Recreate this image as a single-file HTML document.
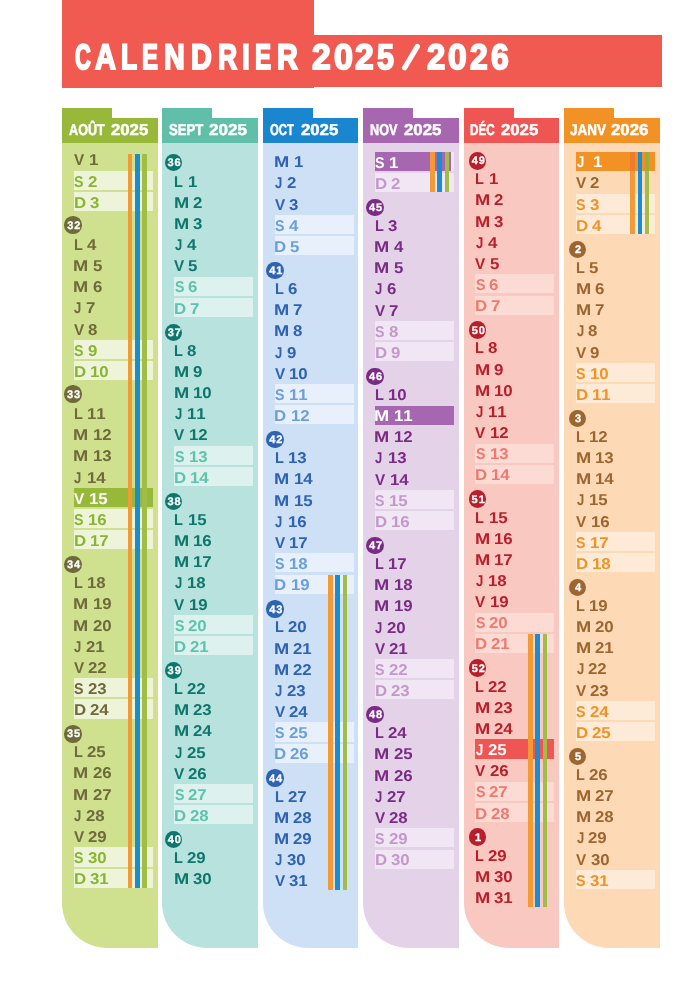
<!DOCTYPE html><html><head><meta charset="utf-8"><title>Calendrier 2025/2026</title><style>
html,body{margin:0;padding:0;background:#fff;}
body{width:700px;height:993px;position:relative;overflow:hidden;font-family:"Liberation Sans", sans-serif;font-weight:bold;font-kerning:none;text-rendering:geometricPrecision;}
div{position:absolute;box-sizing:border-box;}
.t{white-space:nowrap;line-height:1;transform-origin:0 0;}
.h{-webkit-text-stroke:0.5px #fff;}
.n{-webkit-text-stroke:0.3px #fff;}
.c{border-radius:50%;}
#w{position:absolute;left:0;top:0;width:700px;height:993px;will-change:transform;}
</style></head><body><div id="w">
<div style="left:62px;top:0;width:252px;height:88px;background:#f05a51"></div>
<div style="left:62px;top:35px;width:600px;height:52.4px;background:#f05a51"></div>
<div class="t" style="left:75.20px;top:40.00px;font-size:35.50px;color:#fff;transform:scaleX(0.6161);-webkit-text-stroke:2px #fff;">C</div>
<div class="t" style="left:95.18px;top:40.00px;font-size:35.50px;color:#fff;transform:scaleX(0.8145);-webkit-text-stroke:2px #fff;">A</div>
<div class="t" style="left:120.64px;top:40.00px;font-size:35.50px;color:#fff;transform:scaleX(0.7410);-webkit-text-stroke:2px #fff;">L</div>
<div class="t" style="left:142.30px;top:40.00px;font-size:35.50px;color:#fff;transform:scaleX(0.6728);-webkit-text-stroke:2px #fff;">E</div>
<div class="t" style="left:164.18px;top:40.00px;font-size:35.50px;color:#fff;transform:scaleX(0.8098);-webkit-text-stroke:2px #fff;">N</div>
<div class="t" style="left:191.07px;top:40.00px;font-size:35.50px;color:#fff;transform:scaleX(0.8130);-webkit-text-stroke:2px #fff;">D</div>
<div class="t" style="left:217.83px;top:40.00px;font-size:35.50px;color:#fff;transform:scaleX(0.7455);-webkit-text-stroke:2px #fff;">R</div>
<div class="t" style="left:241.74px;top:40.00px;font-size:35.50px;color:#fff;transform:scaleX(0.7822);-webkit-text-stroke:2px #fff;">I</div>
<div class="t" style="left:254.79px;top:40.00px;font-size:35.50px;color:#fff;transform:scaleX(0.6778);-webkit-text-stroke:2px #fff;">E</div>
<div class="t" style="left:276.77px;top:40.00px;font-size:35.50px;color:#fff;transform:scaleX(0.8121);-webkit-text-stroke:2px #fff;">R</div>
<div class="t" style="left:312.43px;top:40.00px;font-size:35.50px;color:#fff;transform:scaleX(0.9479);-webkit-text-stroke:1.8px #fff;">2</div>
<div class="t" style="left:333.65px;top:40.00px;font-size:35.50px;color:#fff;transform:scaleX(0.9595);-webkit-text-stroke:1.8px #fff;">0</div>
<div class="t" style="left:355.33px;top:40.00px;font-size:35.50px;color:#fff;transform:scaleX(0.9479);-webkit-text-stroke:1.8px #fff;">2</div>
<div class="t" style="left:376.96px;top:40.00px;font-size:35.50px;color:#fff;transform:scaleX(0.8605);-webkit-text-stroke:1.8px #fff;">5</div>
<div class="t" style="left:427.16px;top:40.00px;font-size:35.50px;color:#fff;transform:scaleX(0.9244);-webkit-text-stroke:1.8px #fff;">2</div>
<div class="t" style="left:448.17px;top:40.00px;font-size:35.50px;color:#fff;transform:scaleX(0.9477);-webkit-text-stroke:1.8px #fff;">0</div>
<div class="t" style="left:470.10px;top:40.00px;font-size:35.50px;color:#fff;transform:scaleX(0.8952);-webkit-text-stroke:1.8px #fff;">2</div>
<div class="t" style="left:491.13px;top:40.00px;font-size:35.50px;color:#fff;transform:scaleX(0.8974);-webkit-text-stroke:1.8px #fff;">6</div>
<svg style="position:absolute;left:0;top:0" width="700" height="100"><line x1="404.6" y1="67.8" x2="417.4" y2="46.4" stroke="#fff" stroke-width="5.2" stroke-linecap="round"/></svg>
<div style="left:62.00px;top:108.30px;width:50px;height:10.60px;background:#98b83a"></div>
<div style="left:62.00px;top:117.90px;width:95.60px;height:24.90px;background:#98b83a"></div>
<div style="left:62.00px;top:142.80px;width:95.60px;height:805.00px;background:#cfe18f;border-bottom-left-radius:45px"></div>
<div class="t h" style="left:69.03px;top:123.00px;font-size:15.80px;color:#fff;transform:scaleX(0.8009);">AOÛT</div>
<div class="t h" style="left:111.17px;top:123.00px;font-size:15.80px;color:#fff;transform:scaleX(1.0597);">2025</div>
<div style="left:73.90px;top:170.94px;width:79.00px;height:19.10px;background:#eef4da"></div>
<div style="left:73.90px;top:192.08px;width:79.00px;height:19.10px;background:#eef4da"></div>
<div style="left:73.90px;top:340.06px;width:79.00px;height:19.10px;background:#eef4da"></div>
<div style="left:73.90px;top:361.20px;width:79.00px;height:19.10px;background:#eef4da"></div>
<div style="left:73.90px;top:509.18px;width:79.00px;height:19.10px;background:#eef4da"></div>
<div style="left:73.90px;top:530.32px;width:79.00px;height:19.10px;background:#eef4da"></div>
<div style="left:73.90px;top:678.30px;width:79.00px;height:19.10px;background:#eef4da"></div>
<div style="left:73.90px;top:699.44px;width:79.00px;height:19.10px;background:#eef4da"></div>
<div style="left:73.90px;top:847.42px;width:79.00px;height:19.10px;background:#eef4da"></div>
<div style="left:73.90px;top:868.56px;width:79.00px;height:19.10px;background:#eef4da"></div>
<div style="left:73.90px;top:488.04px;width:79.00px;height:19.10px;background:#98b83a"></div>
<div style="left:127.70px;top:154.00px;width:4.6px;height:733.66px;background:#f39a36"></div>
<div style="left:134.95px;top:154.00px;width:4.6px;height:733.66px;background:#1a8dd0"></div>
<div style="left:142.20px;top:154.00px;width:4.6px;height:733.66px;background:#a0bd48"></div>
<div class="t" style="left:73.90px;top:153.00px;font-size:15.60px;color:#6f6a3a;transform:scaleX(0.9800);">V</div>
<div class="t" style="left:88.64px;top:153.00px;font-size:15.60px;color:#6f6a3a;transform:scaleX(1.0800);">1</div>
<div class="t" style="left:74.39px;top:175.00px;font-size:15.60px;color:#8ab52f;transform:scaleX(0.9100);">S</div>
<div class="t" style="left:87.92px;top:175.00px;font-size:15.60px;color:#8ab52f;transform:scaleX(1.0800);">2</div>
<div class="t" style="left:73.67px;top:196.00px;font-size:15.60px;color:#8ab52f;transform:scaleX(1.0800);">D</div>
<div class="t" style="left:89.81px;top:196.00px;font-size:15.60px;color:#8ab52f;transform:scaleX(1.0800);">3</div>
<div class="c" style="left:64.35px;top:216.12px;width:17.5px;height:17.5px;background:#6f6a3a"></div>
<div class="t n" style="left:67.13px;top:221.00px;font-size:11.00px;color:#fff;letter-spacing:0.9px;">32</div>
<div class="t" style="left:73.83px;top:238.00px;font-size:15.60px;color:#6f6a3a;transform:scaleX(0.9300);">L</div>
<div class="t" style="left:87.24px;top:238.00px;font-size:15.60px;color:#6f6a3a;transform:scaleX(1.0800);">4</div>
<div class="t" style="left:73.48px;top:259.00px;font-size:15.60px;color:#6f6a3a;transform:scaleX(1.1700);">M</div>
<div class="t" style="left:92.68px;top:259.00px;font-size:15.60px;color:#6f6a3a;transform:scaleX(1.0800);">5</div>
<div class="t" style="left:73.48px;top:280.00px;font-size:15.60px;color:#6f6a3a;transform:scaleX(1.1700);">M</div>
<div class="t" style="left:92.58px;top:280.00px;font-size:15.60px;color:#6f6a3a;transform:scaleX(1.0800);">6</div>
<div class="t" style="left:74.40px;top:301.00px;font-size:15.60px;color:#6f6a3a;transform:scaleX(0.8400);">J</div>
<div class="t" style="left:86.18px;top:301.00px;font-size:15.60px;color:#6f6a3a;transform:scaleX(1.0800);">7</div>
<div class="t" style="left:73.90px;top:323.00px;font-size:15.60px;color:#6f6a3a;transform:scaleX(0.9800);">V</div>
<div class="t" style="left:88.27px;top:323.00px;font-size:15.60px;color:#6f6a3a;transform:scaleX(1.0800);">8</div>
<div class="t" style="left:74.39px;top:344.00px;font-size:15.60px;color:#8ab52f;transform:scaleX(0.9100);">S</div>
<div class="t" style="left:87.92px;top:344.00px;font-size:15.60px;color:#8ab52f;transform:scaleX(1.0800);">9</div>
<div class="t" style="left:73.67px;top:365.00px;font-size:15.60px;color:#8ab52f;transform:scaleX(1.0800);">D</div>
<div class="t" style="left:90.04px;top:365.00px;font-size:15.60px;color:#8ab52f;transform:scaleX(1.0800);">10</div>
<div class="c" style="left:64.35px;top:385.29px;width:17.5px;height:17.5px;background:#6f6a3a"></div>
<div class="t n" style="left:67.10px;top:390.00px;font-size:11.00px;color:#fff;letter-spacing:0.9px;">33</div>
<div class="t" style="left:73.83px;top:407.00px;font-size:15.60px;color:#6f6a3a;transform:scaleX(0.9300);">L</div>
<div class="t" style="left:87.34px;top:407.00px;font-size:15.60px;color:#6f6a3a;transform:scaleX(1.0800);">11</div>
<div class="t" style="left:73.48px;top:428.00px;font-size:15.60px;color:#6f6a3a;transform:scaleX(1.1700);">M</div>
<div class="t" style="left:93.04px;top:428.00px;font-size:15.60px;color:#6f6a3a;transform:scaleX(1.0800);">12</div>
<div class="t" style="left:73.48px;top:449.00px;font-size:15.60px;color:#6f6a3a;transform:scaleX(1.1700);">M</div>
<div class="t" style="left:93.04px;top:449.00px;font-size:15.60px;color:#6f6a3a;transform:scaleX(1.0800);">13</div>
<div class="t" style="left:74.40px;top:471.00px;font-size:15.60px;color:#6f6a3a;transform:scaleX(0.8400);">J</div>
<div class="t" style="left:86.74px;top:471.00px;font-size:15.60px;color:#6f6a3a;transform:scaleX(1.0800);">14</div>
<div class="t" style="left:73.90px;top:492.00px;font-size:15.60px;color:#fff;transform:scaleX(0.9800);">V</div>
<div class="t" style="left:88.64px;top:492.00px;font-size:15.60px;color:#fff;transform:scaleX(1.0800);">15</div>
<div class="t" style="left:74.39px;top:513.00px;font-size:15.60px;color:#8ab52f;transform:scaleX(0.9100);">S</div>
<div class="t" style="left:88.34px;top:513.00px;font-size:15.60px;color:#8ab52f;transform:scaleX(1.0800);">16</div>
<div class="t" style="left:73.67px;top:534.00px;font-size:15.60px;color:#8ab52f;transform:scaleX(1.0800);">D</div>
<div class="t" style="left:90.04px;top:534.00px;font-size:15.60px;color:#8ab52f;transform:scaleX(1.0800);">17</div>
<div class="c" style="left:64.35px;top:555.91px;width:17.5px;height:17.5px;background:#6f6a3a"></div>
<div class="t n" style="left:66.94px;top:560.00px;font-size:11.00px;color:#fff;letter-spacing:0.9px;">34</div>
<div class="t" style="left:73.83px;top:576.00px;font-size:15.60px;color:#6f6a3a;transform:scaleX(0.9300);">L</div>
<div class="t" style="left:87.34px;top:576.00px;font-size:15.60px;color:#6f6a3a;transform:scaleX(1.0800);">18</div>
<div class="t" style="left:73.48px;top:597.00px;font-size:15.60px;color:#6f6a3a;transform:scaleX(1.1700);">M</div>
<div class="t" style="left:93.04px;top:597.00px;font-size:15.60px;color:#6f6a3a;transform:scaleX(1.0800);">19</div>
<div class="t" style="left:73.48px;top:619.00px;font-size:15.60px;color:#6f6a3a;transform:scaleX(1.1700);">M</div>
<div class="t" style="left:92.62px;top:619.00px;font-size:15.60px;color:#6f6a3a;transform:scaleX(1.0800);">20</div>
<div class="t" style="left:74.40px;top:640.00px;font-size:15.60px;color:#6f6a3a;transform:scaleX(0.8400);">J</div>
<div class="t" style="left:86.32px;top:640.00px;font-size:15.60px;color:#6f6a3a;transform:scaleX(1.0800);">21</div>
<div class="t" style="left:73.90px;top:661.00px;font-size:15.60px;color:#6f6a3a;transform:scaleX(0.9800);">V</div>
<div class="t" style="left:88.22px;top:661.00px;font-size:15.60px;color:#6f6a3a;transform:scaleX(1.0800);">22</div>
<div class="t" style="left:74.39px;top:682.00px;font-size:15.60px;color:#6f6a3a;transform:scaleX(0.9100);">S</div>
<div class="t" style="left:87.92px;top:682.00px;font-size:15.60px;color:#6f6a3a;transform:scaleX(1.0800);">23</div>
<div class="t" style="left:73.67px;top:703.00px;font-size:15.60px;color:#6f6a3a;transform:scaleX(1.0800);">D</div>
<div class="t" style="left:89.62px;top:703.00px;font-size:15.60px;color:#6f6a3a;transform:scaleX(1.0800);">24</div>
<div class="c" style="left:64.35px;top:725.03px;width:17.5px;height:17.5px;background:#6f6a3a"></div>
<div class="t n" style="left:67.06px;top:729.00px;font-size:11.00px;color:#fff;letter-spacing:0.9px;">35</div>
<div class="t" style="left:73.83px;top:745.00px;font-size:15.60px;color:#6f6a3a;transform:scaleX(0.9300);">L</div>
<div class="t" style="left:86.92px;top:745.00px;font-size:15.60px;color:#6f6a3a;transform:scaleX(1.0800);">25</div>
<div class="t" style="left:73.48px;top:766.00px;font-size:15.60px;color:#6f6a3a;transform:scaleX(1.1700);">M</div>
<div class="t" style="left:92.62px;top:766.00px;font-size:15.60px;color:#6f6a3a;transform:scaleX(1.0800);">26</div>
<div class="t" style="left:73.48px;top:788.00px;font-size:15.60px;color:#6f6a3a;transform:scaleX(1.1700);">M</div>
<div class="t" style="left:92.62px;top:788.00px;font-size:15.60px;color:#6f6a3a;transform:scaleX(1.0800);">27</div>
<div class="t" style="left:74.40px;top:809.00px;font-size:15.60px;color:#6f6a3a;transform:scaleX(0.8400);">J</div>
<div class="t" style="left:86.32px;top:809.00px;font-size:15.60px;color:#6f6a3a;transform:scaleX(1.0800);">28</div>
<div class="t" style="left:73.90px;top:830.00px;font-size:15.60px;color:#6f6a3a;transform:scaleX(0.9800);">V</div>
<div class="t" style="left:88.22px;top:830.00px;font-size:15.60px;color:#6f6a3a;transform:scaleX(1.0800);">29</div>
<div class="t" style="left:74.39px;top:851.00px;font-size:15.60px;color:#8ab52f;transform:scaleX(0.9100);">S</div>
<div class="t" style="left:88.11px;top:851.00px;font-size:15.60px;color:#8ab52f;transform:scaleX(1.0800);">30</div>
<div class="t" style="left:73.67px;top:872.00px;font-size:15.60px;color:#8ab52f;transform:scaleX(1.0800);">D</div>
<div class="t" style="left:89.81px;top:872.00px;font-size:15.60px;color:#8ab52f;transform:scaleX(1.0800);">31</div>
<div style="left:162.10px;top:108.30px;width:50px;height:10.60px;background:#5fbfa9"></div>
<div style="left:162.10px;top:117.90px;width:95.60px;height:24.90px;background:#5fbfa9"></div>
<div style="left:162.10px;top:142.80px;width:95.60px;height:805.00px;background:#b7e2de;border-bottom-left-radius:45px"></div>
<div class="t h" style="left:168.97px;top:123.00px;font-size:15.80px;color:#fff;transform:scaleX(0.8267);">SEPT</div>
<div class="t h" style="left:209.46px;top:123.00px;font-size:15.80px;color:#fff;transform:scaleX(1.0802);">2025</div>
<div style="left:174.10px;top:276.80px;width:79.00px;height:19.10px;background:#ddf1ee"></div>
<div style="left:174.10px;top:297.94px;width:79.00px;height:19.10px;background:#ddf1ee"></div>
<div style="left:174.10px;top:445.92px;width:79.00px;height:19.10px;background:#ddf1ee"></div>
<div style="left:174.10px;top:467.06px;width:79.00px;height:19.10px;background:#ddf1ee"></div>
<div style="left:174.10px;top:615.04px;width:79.00px;height:19.10px;background:#ddf1ee"></div>
<div style="left:174.10px;top:636.18px;width:79.00px;height:19.10px;background:#ddf1ee"></div>
<div style="left:174.10px;top:784.16px;width:79.00px;height:19.10px;background:#ddf1ee"></div>
<div style="left:174.10px;top:805.30px;width:79.00px;height:19.10px;background:#ddf1ee"></div>
<div class="c" style="left:164.85px;top:153.91px;width:17.5px;height:17.5px;background:#0e776c"></div>
<div class="t n" style="left:167.60px;top:158.00px;font-size:11.00px;color:#fff;letter-spacing:0.9px;">36</div>
<div class="t" style="left:174.03px;top:175.00px;font-size:15.60px;color:#0e776c;transform:scaleX(0.9300);">L</div>
<div class="t" style="left:187.54px;top:175.00px;font-size:15.60px;color:#0e776c;transform:scaleX(1.0800);">1</div>
<div class="t" style="left:173.68px;top:196.00px;font-size:15.60px;color:#0e776c;transform:scaleX(1.1700);">M</div>
<div class="t" style="left:192.82px;top:196.00px;font-size:15.60px;color:#0e776c;transform:scaleX(1.0800);">2</div>
<div class="t" style="left:173.68px;top:217.00px;font-size:15.60px;color:#0e776c;transform:scaleX(1.1700);">M</div>
<div class="t" style="left:193.01px;top:217.00px;font-size:15.60px;color:#0e776c;transform:scaleX(1.0800);">3</div>
<div class="t" style="left:174.60px;top:238.00px;font-size:15.60px;color:#0e776c;transform:scaleX(0.8400);">J</div>
<div class="t" style="left:186.84px;top:238.00px;font-size:15.60px;color:#0e776c;transform:scaleX(1.0800);">4</div>
<div class="t" style="left:174.10px;top:259.00px;font-size:15.60px;color:#0e776c;transform:scaleX(0.9800);">V</div>
<div class="t" style="left:188.48px;top:259.00px;font-size:15.60px;color:#0e776c;transform:scaleX(1.0800);">5</div>
<div class="t" style="left:174.59px;top:280.00px;font-size:15.60px;color:#5cc4ae;transform:scaleX(0.9100);">S</div>
<div class="t" style="left:188.08px;top:280.00px;font-size:15.60px;color:#5cc4ae;transform:scaleX(1.0800);">6</div>
<div class="t" style="left:173.87px;top:302.00px;font-size:15.60px;color:#5cc4ae;transform:scaleX(1.0800);">D</div>
<div class="t" style="left:189.68px;top:302.00px;font-size:15.60px;color:#5cc4ae;transform:scaleX(1.0800);">7</div>
<div class="c" style="left:164.85px;top:323.53px;width:17.5px;height:17.5px;background:#0e776c"></div>
<div class="t n" style="left:167.65px;top:328.00px;font-size:11.00px;color:#fff;letter-spacing:0.9px;">37</div>
<div class="t" style="left:174.03px;top:344.00px;font-size:15.60px;color:#0e776c;transform:scaleX(0.9300);">L</div>
<div class="t" style="left:187.17px;top:344.00px;font-size:15.60px;color:#0e776c;transform:scaleX(1.0800);">8</div>
<div class="t" style="left:173.68px;top:365.00px;font-size:15.60px;color:#0e776c;transform:scaleX(1.1700);">M</div>
<div class="t" style="left:192.82px;top:365.00px;font-size:15.60px;color:#0e776c;transform:scaleX(1.0800);">9</div>
<div class="t" style="left:173.68px;top:386.00px;font-size:15.60px;color:#0e776c;transform:scaleX(1.1700);">M</div>
<div class="t" style="left:193.24px;top:386.00px;font-size:15.60px;color:#0e776c;transform:scaleX(1.0800);">10</div>
<div class="t" style="left:174.60px;top:407.00px;font-size:15.60px;color:#0e776c;transform:scaleX(0.8400);">J</div>
<div class="t" style="left:186.94px;top:407.00px;font-size:15.60px;color:#0e776c;transform:scaleX(1.0800);">11</div>
<div class="t" style="left:174.10px;top:428.00px;font-size:15.60px;color:#0e776c;transform:scaleX(0.9800);">V</div>
<div class="t" style="left:188.84px;top:428.00px;font-size:15.60px;color:#0e776c;transform:scaleX(1.0800);">12</div>
<div class="t" style="left:174.59px;top:450.00px;font-size:15.60px;color:#5cc4ae;transform:scaleX(0.9100);">S</div>
<div class="t" style="left:188.54px;top:450.00px;font-size:15.60px;color:#5cc4ae;transform:scaleX(1.0800);">13</div>
<div class="t" style="left:173.87px;top:471.00px;font-size:15.60px;color:#5cc4ae;transform:scaleX(1.0800);">D</div>
<div class="t" style="left:190.24px;top:471.00px;font-size:15.60px;color:#5cc4ae;transform:scaleX(1.0800);">14</div>
<div class="c" style="left:164.85px;top:492.65px;width:17.5px;height:17.5px;background:#0e776c"></div>
<div class="t n" style="left:167.58px;top:497.00px;font-size:11.00px;color:#fff;letter-spacing:0.9px;">38</div>
<div class="t" style="left:174.03px;top:513.00px;font-size:15.60px;color:#0e776c;transform:scaleX(0.9300);">L</div>
<div class="t" style="left:187.54px;top:513.00px;font-size:15.60px;color:#0e776c;transform:scaleX(1.0800);">15</div>
<div class="t" style="left:173.68px;top:534.00px;font-size:15.60px;color:#0e776c;transform:scaleX(1.1700);">M</div>
<div class="t" style="left:193.24px;top:534.00px;font-size:15.60px;color:#0e776c;transform:scaleX(1.0800);">16</div>
<div class="t" style="left:173.68px;top:555.00px;font-size:15.60px;color:#0e776c;transform:scaleX(1.1700);">M</div>
<div class="t" style="left:193.24px;top:555.00px;font-size:15.60px;color:#0e776c;transform:scaleX(1.0800);">17</div>
<div class="t" style="left:174.60px;top:576.00px;font-size:15.60px;color:#0e776c;transform:scaleX(0.8400);">J</div>
<div class="t" style="left:186.94px;top:576.00px;font-size:15.60px;color:#0e776c;transform:scaleX(1.0800);">18</div>
<div class="t" style="left:174.10px;top:598.00px;font-size:15.60px;color:#0e776c;transform:scaleX(0.9800);">V</div>
<div class="t" style="left:188.84px;top:598.00px;font-size:15.60px;color:#0e776c;transform:scaleX(1.0800);">19</div>
<div class="t" style="left:174.59px;top:619.00px;font-size:15.60px;color:#5cc4ae;transform:scaleX(0.9100);">S</div>
<div class="t" style="left:188.12px;top:619.00px;font-size:15.60px;color:#5cc4ae;transform:scaleX(1.0800);">20</div>
<div class="t" style="left:173.87px;top:640.00px;font-size:15.60px;color:#5cc4ae;transform:scaleX(1.0800);">D</div>
<div class="t" style="left:189.82px;top:640.00px;font-size:15.60px;color:#5cc4ae;transform:scaleX(1.0800);">21</div>
<div class="c" style="left:164.85px;top:661.77px;width:17.5px;height:17.5px;background:#0e776c"></div>
<div class="t n" style="left:167.61px;top:666.00px;font-size:11.00px;color:#fff;letter-spacing:0.9px;">39</div>
<div class="t" style="left:174.03px;top:682.00px;font-size:15.60px;color:#0e776c;transform:scaleX(0.9300);">L</div>
<div class="t" style="left:187.12px;top:682.00px;font-size:15.60px;color:#0e776c;transform:scaleX(1.0800);">22</div>
<div class="t" style="left:173.68px;top:703.00px;font-size:15.60px;color:#0e776c;transform:scaleX(1.1700);">M</div>
<div class="t" style="left:192.82px;top:703.00px;font-size:15.60px;color:#0e776c;transform:scaleX(1.0800);">23</div>
<div class="t" style="left:173.68px;top:724.00px;font-size:15.60px;color:#0e776c;transform:scaleX(1.1700);">M</div>
<div class="t" style="left:192.82px;top:724.00px;font-size:15.60px;color:#0e776c;transform:scaleX(1.0800);">24</div>
<div class="t" style="left:174.60px;top:746.00px;font-size:15.60px;color:#0e776c;transform:scaleX(0.8400);">J</div>
<div class="t" style="left:186.52px;top:746.00px;font-size:15.60px;color:#0e776c;transform:scaleX(1.0800);">25</div>
<div class="t" style="left:174.10px;top:767.00px;font-size:15.60px;color:#0e776c;transform:scaleX(0.9800);">V</div>
<div class="t" style="left:188.42px;top:767.00px;font-size:15.60px;color:#0e776c;transform:scaleX(1.0800);">26</div>
<div class="t" style="left:174.59px;top:788.00px;font-size:15.60px;color:#5cc4ae;transform:scaleX(0.9100);">S</div>
<div class="t" style="left:188.12px;top:788.00px;font-size:15.60px;color:#5cc4ae;transform:scaleX(1.0800);">27</div>
<div class="t" style="left:173.87px;top:809.00px;font-size:15.60px;color:#5cc4ae;transform:scaleX(1.0800);">D</div>
<div class="t" style="left:189.82px;top:809.00px;font-size:15.60px;color:#5cc4ae;transform:scaleX(1.0800);">28</div>
<div class="c" style="left:164.85px;top:830.89px;width:17.5px;height:17.5px;background:#0e776c"></div>
<div class="t n" style="left:167.67px;top:835.00px;font-size:11.00px;color:#fff;letter-spacing:0.9px;">40</div>
<div class="t" style="left:174.03px;top:851.00px;font-size:15.60px;color:#0e776c;transform:scaleX(0.9300);">L</div>
<div class="t" style="left:187.12px;top:851.00px;font-size:15.60px;color:#0e776c;transform:scaleX(1.0800);">29</div>
<div class="t" style="left:173.68px;top:872.00px;font-size:15.60px;color:#0e776c;transform:scaleX(1.1700);">M</div>
<div class="t" style="left:193.01px;top:872.00px;font-size:15.60px;color:#0e776c;transform:scaleX(1.0800);">30</div>
<div style="left:262.70px;top:108.30px;width:50px;height:10.60px;background:#1a86cf"></div>
<div style="left:262.70px;top:117.90px;width:95.60px;height:24.90px;background:#1a86cf"></div>
<div style="left:262.70px;top:142.80px;width:95.60px;height:805.00px;background:#cde0f5;border-bottom-left-radius:45px"></div>
<div class="t h" style="left:269.89px;top:123.00px;font-size:15.80px;color:#fff;transform:scaleX(0.7162);">OCT</div>
<div class="t h" style="left:300.77px;top:123.00px;font-size:15.80px;color:#fff;transform:scaleX(1.0597);">2025</div>
<div style="left:274.70px;top:215.12px;width:79.00px;height:19.10px;background:#e7f0fb"></div>
<div style="left:274.70px;top:236.26px;width:79.00px;height:19.10px;background:#e7f0fb"></div>
<div style="left:274.70px;top:384.24px;width:79.00px;height:19.10px;background:#e7f0fb"></div>
<div style="left:274.70px;top:405.38px;width:79.00px;height:19.10px;background:#e7f0fb"></div>
<div style="left:274.70px;top:553.36px;width:79.00px;height:19.10px;background:#e7f0fb"></div>
<div style="left:274.70px;top:574.50px;width:79.00px;height:19.10px;background:#e7f0fb"></div>
<div style="left:274.70px;top:722.48px;width:79.00px;height:19.10px;background:#e7f0fb"></div>
<div style="left:274.70px;top:743.62px;width:79.00px;height:19.10px;background:#e7f0fb"></div>
<div style="left:328.20px;top:574.50px;width:4.6px;height:315.06px;background:#f39a36"></div>
<div style="left:335.45px;top:574.50px;width:4.6px;height:315.06px;background:#1a8dd0"></div>
<div style="left:342.70px;top:574.50px;width:4.6px;height:315.06px;background:#a0bd48"></div>
<div class="t" style="left:274.28px;top:155.00px;font-size:15.60px;color:#2d63b1;transform:scaleX(1.1700);">M</div>
<div class="t" style="left:293.84px;top:155.00px;font-size:15.60px;color:#2d63b1;transform:scaleX(1.0800);">1</div>
<div class="t" style="left:275.20px;top:176.00px;font-size:15.60px;color:#2d63b1;transform:scaleX(0.8400);">J</div>
<div class="t" style="left:287.12px;top:176.00px;font-size:15.60px;color:#2d63b1;transform:scaleX(1.0800);">2</div>
<div class="t" style="left:274.70px;top:198.00px;font-size:15.60px;color:#2d63b1;transform:scaleX(0.9800);">V</div>
<div class="t" style="left:289.21px;top:198.00px;font-size:15.60px;color:#2d63b1;transform:scaleX(1.0800);">3</div>
<div class="t" style="left:275.19px;top:219.00px;font-size:15.60px;color:#6a9fdc;transform:scaleX(0.9100);">S</div>
<div class="t" style="left:289.04px;top:219.00px;font-size:15.60px;color:#6a9fdc;transform:scaleX(1.0800);">4</div>
<div class="t" style="left:274.47px;top:240.00px;font-size:15.60px;color:#6a9fdc;transform:scaleX(1.0800);">D</div>
<div class="t" style="left:290.48px;top:240.00px;font-size:15.60px;color:#6a9fdc;transform:scaleX(1.0800);">5</div>
<div class="c" style="left:266.45px;top:261.85px;width:17.5px;height:17.5px;background:#2d63b1"></div>
<div class="t n" style="left:269.20px;top:266.00px;font-size:11.00px;color:#fff;letter-spacing:0.9px;">41</div>
<div class="t" style="left:274.63px;top:282.00px;font-size:15.60px;color:#2d63b1;transform:scaleX(0.9300);">L</div>
<div class="t" style="left:287.68px;top:282.00px;font-size:15.60px;color:#2d63b1;transform:scaleX(1.0800);">6</div>
<div class="t" style="left:274.28px;top:303.00px;font-size:15.60px;color:#2d63b1;transform:scaleX(1.1700);">M</div>
<div class="t" style="left:293.28px;top:303.00px;font-size:15.60px;color:#2d63b1;transform:scaleX(1.0800);">7</div>
<div class="t" style="left:274.28px;top:324.00px;font-size:15.60px;color:#2d63b1;transform:scaleX(1.1700);">M</div>
<div class="t" style="left:293.47px;top:324.00px;font-size:15.60px;color:#2d63b1;transform:scaleX(1.0800);">8</div>
<div class="t" style="left:275.20px;top:346.00px;font-size:15.60px;color:#2d63b1;transform:scaleX(0.8400);">J</div>
<div class="t" style="left:287.12px;top:346.00px;font-size:15.60px;color:#2d63b1;transform:scaleX(1.0800);">9</div>
<div class="t" style="left:274.70px;top:367.00px;font-size:15.60px;color:#2d63b1;transform:scaleX(0.9800);">V</div>
<div class="t" style="left:289.44px;top:367.00px;font-size:15.60px;color:#2d63b1;transform:scaleX(1.0800);">10</div>
<div class="t" style="left:275.19px;top:388.00px;font-size:15.60px;color:#6a9fdc;transform:scaleX(0.9100);">S</div>
<div class="t" style="left:289.14px;top:388.00px;font-size:15.60px;color:#6a9fdc;transform:scaleX(1.0800);">11</div>
<div class="t" style="left:274.47px;top:409.00px;font-size:15.60px;color:#6a9fdc;transform:scaleX(1.0800);">D</div>
<div class="t" style="left:290.84px;top:409.00px;font-size:15.60px;color:#6a9fdc;transform:scaleX(1.0800);">12</div>
<div class="c" style="left:266.45px;top:430.97px;width:17.5px;height:17.5px;background:#2d63b1"></div>
<div class="t n" style="left:269.27px;top:435.00px;font-size:11.00px;color:#fff;letter-spacing:0.9px;">42</div>
<div class="t" style="left:274.63px;top:451.00px;font-size:15.60px;color:#2d63b1;transform:scaleX(0.9300);">L</div>
<div class="t" style="left:288.14px;top:451.00px;font-size:15.60px;color:#2d63b1;transform:scaleX(1.0800);">13</div>
<div class="t" style="left:274.28px;top:472.00px;font-size:15.60px;color:#2d63b1;transform:scaleX(1.1700);">M</div>
<div class="t" style="left:293.84px;top:472.00px;font-size:15.60px;color:#2d63b1;transform:scaleX(1.0800);">14</div>
<div class="t" style="left:274.28px;top:494.00px;font-size:15.60px;color:#2d63b1;transform:scaleX(1.1700);">M</div>
<div class="t" style="left:293.84px;top:494.00px;font-size:15.60px;color:#2d63b1;transform:scaleX(1.0800);">15</div>
<div class="t" style="left:275.20px;top:515.00px;font-size:15.60px;color:#2d63b1;transform:scaleX(0.8400);">J</div>
<div class="t" style="left:287.54px;top:515.00px;font-size:15.60px;color:#2d63b1;transform:scaleX(1.0800);">16</div>
<div class="t" style="left:274.70px;top:536.00px;font-size:15.60px;color:#2d63b1;transform:scaleX(0.9800);">V</div>
<div class="t" style="left:289.44px;top:536.00px;font-size:15.60px;color:#2d63b1;transform:scaleX(1.0800);">17</div>
<div class="t" style="left:275.19px;top:557.00px;font-size:15.60px;color:#6a9fdc;transform:scaleX(0.9100);">S</div>
<div class="t" style="left:289.14px;top:557.00px;font-size:15.60px;color:#6a9fdc;transform:scaleX(1.0800);">18</div>
<div class="t" style="left:274.47px;top:578.00px;font-size:15.60px;color:#6a9fdc;transform:scaleX(1.0800);">D</div>
<div class="t" style="left:290.84px;top:578.00px;font-size:15.60px;color:#6a9fdc;transform:scaleX(1.0800);">19</div>
<div class="c" style="left:266.45px;top:600.09px;width:17.5px;height:17.5px;background:#2d63b1"></div>
<div class="t n" style="left:269.25px;top:605.00px;font-size:11.00px;color:#fff;letter-spacing:0.9px;">43</div>
<div class="t" style="left:274.63px;top:620.00px;font-size:15.60px;color:#2d63b1;transform:scaleX(0.9300);">L</div>
<div class="t" style="left:287.72px;top:620.00px;font-size:15.60px;color:#2d63b1;transform:scaleX(1.0800);">20</div>
<div class="t" style="left:274.28px;top:642.00px;font-size:15.60px;color:#2d63b1;transform:scaleX(1.1700);">M</div>
<div class="t" style="left:293.42px;top:642.00px;font-size:15.60px;color:#2d63b1;transform:scaleX(1.0800);">21</div>
<div class="t" style="left:274.28px;top:663.00px;font-size:15.60px;color:#2d63b1;transform:scaleX(1.1700);">M</div>
<div class="t" style="left:293.42px;top:663.00px;font-size:15.60px;color:#2d63b1;transform:scaleX(1.0800);">22</div>
<div class="t" style="left:275.20px;top:684.00px;font-size:15.60px;color:#2d63b1;transform:scaleX(0.8400);">J</div>
<div class="t" style="left:287.12px;top:684.00px;font-size:15.60px;color:#2d63b1;transform:scaleX(1.0800);">23</div>
<div class="t" style="left:274.70px;top:705.00px;font-size:15.60px;color:#2d63b1;transform:scaleX(0.9800);">V</div>
<div class="t" style="left:289.02px;top:705.00px;font-size:15.60px;color:#2d63b1;transform:scaleX(1.0800);">24</div>
<div class="t" style="left:275.19px;top:726.00px;font-size:15.60px;color:#6a9fdc;transform:scaleX(0.9100);">S</div>
<div class="t" style="left:288.72px;top:726.00px;font-size:15.60px;color:#6a9fdc;transform:scaleX(1.0800);">25</div>
<div class="t" style="left:274.47px;top:747.00px;font-size:15.60px;color:#6a9fdc;transform:scaleX(1.0800);">D</div>
<div class="t" style="left:290.42px;top:747.00px;font-size:15.60px;color:#6a9fdc;transform:scaleX(1.0800);">26</div>
<div class="c" style="left:266.45px;top:769.21px;width:17.5px;height:17.5px;background:#2d63b1"></div>
<div class="t n" style="left:269.08px;top:774.00px;font-size:11.00px;color:#fff;letter-spacing:0.9px;">44</div>
<div class="t" style="left:274.63px;top:790.00px;font-size:15.60px;color:#2d63b1;transform:scaleX(0.9300);">L</div>
<div class="t" style="left:287.72px;top:790.00px;font-size:15.60px;color:#2d63b1;transform:scaleX(1.0800);">27</div>
<div class="t" style="left:274.28px;top:811.00px;font-size:15.60px;color:#2d63b1;transform:scaleX(1.1700);">M</div>
<div class="t" style="left:293.42px;top:811.00px;font-size:15.60px;color:#2d63b1;transform:scaleX(1.0800);">28</div>
<div class="t" style="left:274.28px;top:832.00px;font-size:15.60px;color:#2d63b1;transform:scaleX(1.1700);">M</div>
<div class="t" style="left:293.42px;top:832.00px;font-size:15.60px;color:#2d63b1;transform:scaleX(1.0800);">29</div>
<div class="t" style="left:275.20px;top:853.00px;font-size:15.60px;color:#2d63b1;transform:scaleX(0.8400);">J</div>
<div class="t" style="left:287.31px;top:853.00px;font-size:15.60px;color:#2d63b1;transform:scaleX(1.0800);">30</div>
<div class="t" style="left:274.70px;top:874.00px;font-size:15.60px;color:#2d63b1;transform:scaleX(0.9800);">V</div>
<div class="t" style="left:289.21px;top:874.00px;font-size:15.60px;color:#2d63b1;transform:scaleX(1.0800);">31</div>
<div style="left:363.10px;top:108.30px;width:50px;height:10.60px;background:#a666b0"></div>
<div style="left:363.10px;top:117.90px;width:95.60px;height:24.90px;background:#a666b0"></div>
<div style="left:363.10px;top:142.80px;width:95.60px;height:805.00px;background:#e4d2e9;border-bottom-left-radius:45px"></div>
<div class="t h" style="left:369.50px;top:123.00px;font-size:15.80px;color:#fff;transform:scaleX(0.8012);">NOV</div>
<div class="t h" style="left:403.57px;top:123.00px;font-size:15.80px;color:#fff;transform:scaleX(1.0626);">2025</div>
<div style="left:374.90px;top:151.90px;width:79.00px;height:19.10px;background:#f1e6f3"></div>
<div style="left:374.90px;top:173.04px;width:79.00px;height:19.10px;background:#f1e6f3"></div>
<div style="left:374.90px;top:321.02px;width:79.00px;height:19.10px;background:#f1e6f3"></div>
<div style="left:374.90px;top:342.16px;width:79.00px;height:19.10px;background:#f1e6f3"></div>
<div style="left:374.90px;top:490.14px;width:79.00px;height:19.10px;background:#f1e6f3"></div>
<div style="left:374.90px;top:511.28px;width:79.00px;height:19.10px;background:#f1e6f3"></div>
<div style="left:374.90px;top:659.26px;width:79.00px;height:19.10px;background:#f1e6f3"></div>
<div style="left:374.90px;top:680.40px;width:79.00px;height:19.10px;background:#f1e6f3"></div>
<div style="left:374.90px;top:828.38px;width:79.00px;height:19.10px;background:#f1e6f3"></div>
<div style="left:374.90px;top:849.52px;width:79.00px;height:19.10px;background:#f1e6f3"></div>
<div style="left:374.90px;top:151.90px;width:75.90px;height:19.10px;background:#a666b0"></div>
<div style="left:374.90px;top:405.58px;width:79.00px;height:19.10px;background:#a666b0"></div>
<div style="left:430.00px;top:151.90px;width:4.6px;height:40.24px;background:#f39a36"></div>
<div style="left:437.25px;top:151.90px;width:4.6px;height:40.24px;background:#1a8dd0"></div>
<div style="left:444.50px;top:151.90px;width:4.6px;height:40.24px;background:#a0bd48"></div>
<div class="t" style="left:375.39px;top:156.00px;font-size:15.60px;color:#fff;transform:scaleX(0.9100);">S</div>
<div class="t" style="left:389.34px;top:156.00px;font-size:15.60px;color:#fff;transform:scaleX(1.0800);">1</div>
<div class="t" style="left:374.67px;top:177.00px;font-size:15.60px;color:#c399cc;transform:scaleX(1.0800);">D</div>
<div class="t" style="left:390.62px;top:177.00px;font-size:15.60px;color:#c399cc;transform:scaleX(1.0800);">2</div>
<div class="c" style="left:366.15px;top:198.63px;width:17.5px;height:17.5px;background:#7a2b84"></div>
<div class="t n" style="left:368.90px;top:203.00px;font-size:11.00px;color:#fff;letter-spacing:0.9px;">45</div>
<div class="t" style="left:374.83px;top:219.00px;font-size:15.60px;color:#7a2b84;transform:scaleX(0.9300);">L</div>
<div class="t" style="left:388.11px;top:219.00px;font-size:15.60px;color:#7a2b84;transform:scaleX(1.0800);">3</div>
<div class="t" style="left:374.48px;top:240.00px;font-size:15.60px;color:#7a2b84;transform:scaleX(1.1700);">M</div>
<div class="t" style="left:393.94px;top:240.00px;font-size:15.60px;color:#7a2b84;transform:scaleX(1.0800);">4</div>
<div class="t" style="left:374.48px;top:261.00px;font-size:15.60px;color:#7a2b84;transform:scaleX(1.1700);">M</div>
<div class="t" style="left:393.68px;top:261.00px;font-size:15.60px;color:#7a2b84;transform:scaleX(1.0800);">5</div>
<div class="t" style="left:375.40px;top:282.00px;font-size:15.60px;color:#7a2b84;transform:scaleX(0.8400);">J</div>
<div class="t" style="left:387.28px;top:282.00px;font-size:15.60px;color:#7a2b84;transform:scaleX(1.0800);">6</div>
<div class="t" style="left:374.90px;top:304.00px;font-size:15.60px;color:#7a2b84;transform:scaleX(0.9800);">V</div>
<div class="t" style="left:389.08px;top:304.00px;font-size:15.60px;color:#7a2b84;transform:scaleX(1.0800);">7</div>
<div class="t" style="left:375.39px;top:325.00px;font-size:15.60px;color:#c399cc;transform:scaleX(0.9100);">S</div>
<div class="t" style="left:388.97px;top:325.00px;font-size:15.60px;color:#c399cc;transform:scaleX(1.0800);">8</div>
<div class="t" style="left:374.67px;top:346.00px;font-size:15.60px;color:#c399cc;transform:scaleX(1.0800);">D</div>
<div class="t" style="left:390.62px;top:346.00px;font-size:15.60px;color:#c399cc;transform:scaleX(1.0800);">9</div>
<div class="c" style="left:366.15px;top:367.75px;width:17.5px;height:17.5px;background:#7a2b84"></div>
<div class="t n" style="left:368.95px;top:372.00px;font-size:11.00px;color:#fff;letter-spacing:0.9px;">46</div>
<div class="t" style="left:374.83px;top:388.00px;font-size:15.60px;color:#7a2b84;transform:scaleX(0.9300);">L</div>
<div class="t" style="left:388.34px;top:388.00px;font-size:15.60px;color:#7a2b84;transform:scaleX(1.0800);">10</div>
<div class="t" style="left:374.48px;top:409.00px;font-size:15.60px;color:#fff;transform:scaleX(1.1700);">M</div>
<div class="t" style="left:394.04px;top:409.00px;font-size:15.60px;color:#fff;transform:scaleX(1.0800);">11</div>
<div class="t" style="left:374.48px;top:430.00px;font-size:15.60px;color:#7a2b84;transform:scaleX(1.1700);">M</div>
<div class="t" style="left:394.04px;top:430.00px;font-size:15.60px;color:#7a2b84;transform:scaleX(1.0800);">12</div>
<div class="t" style="left:375.40px;top:451.00px;font-size:15.60px;color:#7a2b84;transform:scaleX(0.8400);">J</div>
<div class="t" style="left:387.74px;top:451.00px;font-size:15.60px;color:#7a2b84;transform:scaleX(1.0800);">13</div>
<div class="t" style="left:374.90px;top:473.00px;font-size:15.60px;color:#7a2b84;transform:scaleX(0.9800);">V</div>
<div class="t" style="left:389.64px;top:473.00px;font-size:15.60px;color:#7a2b84;transform:scaleX(1.0800);">14</div>
<div class="t" style="left:375.39px;top:494.00px;font-size:15.60px;color:#c399cc;transform:scaleX(0.9100);">S</div>
<div class="t" style="left:389.34px;top:494.00px;font-size:15.60px;color:#c399cc;transform:scaleX(1.0800);">15</div>
<div class="t" style="left:374.67px;top:515.00px;font-size:15.60px;color:#c399cc;transform:scaleX(1.0800);">D</div>
<div class="t" style="left:391.04px;top:515.00px;font-size:15.60px;color:#c399cc;transform:scaleX(1.0800);">16</div>
<div class="c" style="left:366.15px;top:536.87px;width:17.5px;height:17.5px;background:#7a2b84"></div>
<div class="t n" style="left:368.99px;top:541.00px;font-size:11.00px;color:#fff;letter-spacing:0.9px;">47</div>
<div class="t" style="left:374.83px;top:557.00px;font-size:15.60px;color:#7a2b84;transform:scaleX(0.9300);">L</div>
<div class="t" style="left:388.34px;top:557.00px;font-size:15.60px;color:#7a2b84;transform:scaleX(1.0800);">17</div>
<div class="t" style="left:374.48px;top:578.00px;font-size:15.60px;color:#7a2b84;transform:scaleX(1.1700);">M</div>
<div class="t" style="left:394.04px;top:578.00px;font-size:15.60px;color:#7a2b84;transform:scaleX(1.0800);">18</div>
<div class="t" style="left:374.48px;top:599.00px;font-size:15.60px;color:#7a2b84;transform:scaleX(1.1700);">M</div>
<div class="t" style="left:394.04px;top:599.00px;font-size:15.60px;color:#7a2b84;transform:scaleX(1.0800);">19</div>
<div class="t" style="left:375.40px;top:621.00px;font-size:15.60px;color:#7a2b84;transform:scaleX(0.8400);">J</div>
<div class="t" style="left:387.32px;top:621.00px;font-size:15.60px;color:#7a2b84;transform:scaleX(1.0800);">20</div>
<div class="t" style="left:374.90px;top:642.00px;font-size:15.60px;color:#7a2b84;transform:scaleX(0.9800);">V</div>
<div class="t" style="left:389.22px;top:642.00px;font-size:15.60px;color:#7a2b84;transform:scaleX(1.0800);">21</div>
<div class="t" style="left:375.39px;top:663.00px;font-size:15.60px;color:#c399cc;transform:scaleX(0.9100);">S</div>
<div class="t" style="left:388.92px;top:663.00px;font-size:15.60px;color:#c399cc;transform:scaleX(1.0800);">22</div>
<div class="t" style="left:374.67px;top:684.00px;font-size:15.60px;color:#c399cc;transform:scaleX(1.0800);">D</div>
<div class="t" style="left:390.62px;top:684.00px;font-size:15.60px;color:#c399cc;transform:scaleX(1.0800);">23</div>
<div class="c" style="left:366.15px;top:705.99px;width:17.5px;height:17.5px;background:#7a2b84"></div>
<div class="t n" style="left:368.92px;top:710.00px;font-size:11.00px;color:#fff;letter-spacing:0.9px;">48</div>
<div class="t" style="left:374.83px;top:726.00px;font-size:15.60px;color:#7a2b84;transform:scaleX(0.9300);">L</div>
<div class="t" style="left:387.92px;top:726.00px;font-size:15.60px;color:#7a2b84;transform:scaleX(1.0800);">24</div>
<div class="t" style="left:374.48px;top:747.00px;font-size:15.60px;color:#7a2b84;transform:scaleX(1.1700);">M</div>
<div class="t" style="left:393.62px;top:747.00px;font-size:15.60px;color:#7a2b84;transform:scaleX(1.0800);">25</div>
<div class="t" style="left:374.48px;top:769.00px;font-size:15.60px;color:#7a2b84;transform:scaleX(1.1700);">M</div>
<div class="t" style="left:393.62px;top:769.00px;font-size:15.60px;color:#7a2b84;transform:scaleX(1.0800);">26</div>
<div class="t" style="left:375.40px;top:790.00px;font-size:15.60px;color:#7a2b84;transform:scaleX(0.8400);">J</div>
<div class="t" style="left:387.32px;top:790.00px;font-size:15.60px;color:#7a2b84;transform:scaleX(1.0800);">27</div>
<div class="t" style="left:374.90px;top:811.00px;font-size:15.60px;color:#7a2b84;transform:scaleX(0.9800);">V</div>
<div class="t" style="left:389.22px;top:811.00px;font-size:15.60px;color:#7a2b84;transform:scaleX(1.0800);">28</div>
<div class="t" style="left:375.39px;top:832.00px;font-size:15.60px;color:#c399cc;transform:scaleX(0.9100);">S</div>
<div class="t" style="left:388.92px;top:832.00px;font-size:15.60px;color:#c399cc;transform:scaleX(1.0800);">29</div>
<div class="t" style="left:374.67px;top:853.00px;font-size:15.60px;color:#c399cc;transform:scaleX(1.0800);">D</div>
<div class="t" style="left:390.81px;top:853.00px;font-size:15.60px;color:#c399cc;transform:scaleX(1.0800);">30</div>
<div style="left:463.80px;top:108.30px;width:50px;height:10.60px;background:#ef5552"></div>
<div style="left:463.80px;top:117.90px;width:95.60px;height:24.90px;background:#ef5552"></div>
<div style="left:463.80px;top:142.80px;width:95.60px;height:805.00px;background:#f9c9c1;border-bottom-left-radius:45px"></div>
<div class="t h" style="left:469.57px;top:123.00px;font-size:15.80px;color:#fff;transform:scaleX(0.7405);">DÉC</div>
<div class="t h" style="left:500.77px;top:123.00px;font-size:15.80px;color:#fff;transform:scaleX(1.0597);">2025</div>
<div style="left:475.30px;top:274.40px;width:79.00px;height:19.10px;background:#fbdbd4"></div>
<div style="left:475.30px;top:295.54px;width:79.00px;height:19.10px;background:#fbdbd4"></div>
<div style="left:475.30px;top:443.52px;width:79.00px;height:19.10px;background:#fbdbd4"></div>
<div style="left:475.30px;top:464.66px;width:79.00px;height:19.10px;background:#fbdbd4"></div>
<div style="left:475.30px;top:612.64px;width:79.00px;height:19.10px;background:#fbdbd4"></div>
<div style="left:475.30px;top:633.78px;width:79.00px;height:19.10px;background:#fbdbd4"></div>
<div style="left:475.30px;top:781.76px;width:79.00px;height:19.10px;background:#fbdbd4"></div>
<div style="left:475.30px;top:802.90px;width:79.00px;height:19.10px;background:#fbdbd4"></div>
<div style="left:475.30px;top:739.48px;width:79.00px;height:19.10px;background:#ef5552"></div>
<div style="left:528.00px;top:633.78px;width:4.6px;height:272.78px;background:#f39a36"></div>
<div style="left:535.25px;top:633.78px;width:4.6px;height:272.78px;background:#1a8dd0"></div>
<div style="left:542.50px;top:633.78px;width:4.6px;height:272.78px;background:#a0bd48"></div>
<div class="c" style="left:468.95px;top:152.01px;width:17.5px;height:17.5px;background:#b81f2d"></div>
<div class="t n" style="left:471.75px;top:156.00px;font-size:11.00px;color:#fff;letter-spacing:0.9px;">49</div>
<div class="t" style="left:475.23px;top:172.00px;font-size:15.60px;color:#b81f2d;transform:scaleX(0.9300);">L</div>
<div class="t" style="left:488.74px;top:172.00px;font-size:15.60px;color:#b81f2d;transform:scaleX(1.0800);">1</div>
<div class="t" style="left:474.88px;top:193.00px;font-size:15.60px;color:#b81f2d;transform:scaleX(1.1700);">M</div>
<div class="t" style="left:494.02px;top:193.00px;font-size:15.60px;color:#b81f2d;transform:scaleX(1.0800);">2</div>
<div class="t" style="left:474.88px;top:215.00px;font-size:15.60px;color:#b81f2d;transform:scaleX(1.1700);">M</div>
<div class="t" style="left:494.21px;top:215.00px;font-size:15.60px;color:#b81f2d;transform:scaleX(1.0800);">3</div>
<div class="t" style="left:475.80px;top:236.00px;font-size:15.60px;color:#b81f2d;transform:scaleX(0.8400);">J</div>
<div class="t" style="left:488.04px;top:236.00px;font-size:15.60px;color:#b81f2d;transform:scaleX(1.0800);">4</div>
<div class="t" style="left:475.30px;top:257.00px;font-size:15.60px;color:#b81f2d;transform:scaleX(0.9800);">V</div>
<div class="t" style="left:489.68px;top:257.00px;font-size:15.60px;color:#b81f2d;transform:scaleX(1.0800);">5</div>
<div class="t" style="left:475.79px;top:278.00px;font-size:15.60px;color:#ee7a6f;transform:scaleX(0.9100);">S</div>
<div class="t" style="left:489.28px;top:278.00px;font-size:15.60px;color:#ee7a6f;transform:scaleX(1.0800);">6</div>
<div class="t" style="left:475.07px;top:299.00px;font-size:15.60px;color:#ee7a6f;transform:scaleX(1.0800);">D</div>
<div class="t" style="left:490.88px;top:299.00px;font-size:15.60px;color:#ee7a6f;transform:scaleX(1.0800);">7</div>
<div class="c" style="left:468.95px;top:321.13px;width:17.5px;height:17.5px;background:#b81f2d"></div>
<div class="t n" style="left:471.69px;top:326.00px;font-size:11.00px;color:#fff;letter-spacing:0.9px;">50</div>
<div class="t" style="left:475.23px;top:341.00px;font-size:15.60px;color:#b81f2d;transform:scaleX(0.9300);">L</div>
<div class="t" style="left:488.37px;top:341.00px;font-size:15.60px;color:#b81f2d;transform:scaleX(1.0800);">8</div>
<div class="t" style="left:474.88px;top:363.00px;font-size:15.60px;color:#b81f2d;transform:scaleX(1.1700);">M</div>
<div class="t" style="left:494.02px;top:363.00px;font-size:15.60px;color:#b81f2d;transform:scaleX(1.0800);">9</div>
<div class="t" style="left:474.88px;top:384.00px;font-size:15.60px;color:#b81f2d;transform:scaleX(1.1700);">M</div>
<div class="t" style="left:494.44px;top:384.00px;font-size:15.60px;color:#b81f2d;transform:scaleX(1.0800);">10</div>
<div class="t" style="left:475.80px;top:405.00px;font-size:15.60px;color:#b81f2d;transform:scaleX(0.8400);">J</div>
<div class="t" style="left:488.14px;top:405.00px;font-size:15.60px;color:#b81f2d;transform:scaleX(1.0800);">11</div>
<div class="t" style="left:475.30px;top:426.00px;font-size:15.60px;color:#b81f2d;transform:scaleX(0.9800);">V</div>
<div class="t" style="left:490.04px;top:426.00px;font-size:15.60px;color:#b81f2d;transform:scaleX(1.0800);">12</div>
<div class="t" style="left:475.79px;top:447.00px;font-size:15.60px;color:#ee7a6f;transform:scaleX(0.9100);">S</div>
<div class="t" style="left:489.74px;top:447.00px;font-size:15.60px;color:#ee7a6f;transform:scaleX(1.0800);">13</div>
<div class="t" style="left:475.07px;top:468.00px;font-size:15.60px;color:#ee7a6f;transform:scaleX(1.0800);">D</div>
<div class="t" style="left:491.44px;top:468.00px;font-size:15.60px;color:#ee7a6f;transform:scaleX(1.0800);">14</div>
<div class="c" style="left:468.95px;top:490.25px;width:17.5px;height:17.5px;background:#b81f2d"></div>
<div class="t n" style="left:471.62px;top:495.00px;font-size:11.00px;color:#fff;letter-spacing:0.9px;">51</div>
<div class="t" style="left:475.23px;top:511.00px;font-size:15.60px;color:#b81f2d;transform:scaleX(0.9300);">L</div>
<div class="t" style="left:488.74px;top:511.00px;font-size:15.60px;color:#b81f2d;transform:scaleX(1.0800);">15</div>
<div class="t" style="left:474.88px;top:532.00px;font-size:15.60px;color:#b81f2d;transform:scaleX(1.1700);">M</div>
<div class="t" style="left:494.44px;top:532.00px;font-size:15.60px;color:#b81f2d;transform:scaleX(1.0800);">16</div>
<div class="t" style="left:474.88px;top:553.00px;font-size:15.60px;color:#b81f2d;transform:scaleX(1.1700);">M</div>
<div class="t" style="left:494.44px;top:553.00px;font-size:15.60px;color:#b81f2d;transform:scaleX(1.0800);">17</div>
<div class="t" style="left:475.80px;top:574.00px;font-size:15.60px;color:#b81f2d;transform:scaleX(0.8400);">J</div>
<div class="t" style="left:488.14px;top:574.00px;font-size:15.60px;color:#b81f2d;transform:scaleX(1.0800);">18</div>
<div class="t" style="left:475.30px;top:595.00px;font-size:15.60px;color:#b81f2d;transform:scaleX(0.9800);">V</div>
<div class="t" style="left:490.04px;top:595.00px;font-size:15.60px;color:#b81f2d;transform:scaleX(1.0800);">19</div>
<div class="t" style="left:475.79px;top:616.00px;font-size:15.60px;color:#ee7a6f;transform:scaleX(0.9100);">S</div>
<div class="t" style="left:489.32px;top:616.00px;font-size:15.60px;color:#ee7a6f;transform:scaleX(1.0800);">20</div>
<div class="t" style="left:475.07px;top:637.00px;font-size:15.60px;color:#ee7a6f;transform:scaleX(1.0800);">D</div>
<div class="t" style="left:491.02px;top:637.00px;font-size:15.60px;color:#ee7a6f;transform:scaleX(1.0800);">21</div>
<div class="c" style="left:468.95px;top:659.37px;width:17.5px;height:17.5px;background:#b81f2d"></div>
<div class="t n" style="left:471.68px;top:664.00px;font-size:11.00px;color:#fff;letter-spacing:0.9px;">52</div>
<div class="t" style="left:475.23px;top:680.00px;font-size:15.60px;color:#b81f2d;transform:scaleX(0.9300);">L</div>
<div class="t" style="left:488.32px;top:680.00px;font-size:15.60px;color:#b81f2d;transform:scaleX(1.0800);">22</div>
<div class="t" style="left:474.88px;top:701.00px;font-size:15.60px;color:#b81f2d;transform:scaleX(1.1700);">M</div>
<div class="t" style="left:494.02px;top:701.00px;font-size:15.60px;color:#b81f2d;transform:scaleX(1.0800);">23</div>
<div class="t" style="left:474.88px;top:722.00px;font-size:15.60px;color:#b81f2d;transform:scaleX(1.1700);">M</div>
<div class="t" style="left:494.02px;top:722.00px;font-size:15.60px;color:#b81f2d;transform:scaleX(1.0800);">24</div>
<div class="t" style="left:475.80px;top:743.00px;font-size:15.60px;color:#fff;transform:scaleX(0.8400);">J</div>
<div class="t" style="left:487.72px;top:743.00px;font-size:15.60px;color:#fff;transform:scaleX(1.0800);">25</div>
<div class="t" style="left:475.30px;top:764.00px;font-size:15.60px;color:#b81f2d;transform:scaleX(0.9800);">V</div>
<div class="t" style="left:489.62px;top:764.00px;font-size:15.60px;color:#b81f2d;transform:scaleX(1.0800);">26</div>
<div class="t" style="left:475.79px;top:785.00px;font-size:15.60px;color:#ee7a6f;transform:scaleX(0.9100);">S</div>
<div class="t" style="left:489.32px;top:785.00px;font-size:15.60px;color:#ee7a6f;transform:scaleX(1.0800);">27</div>
<div class="t" style="left:475.07px;top:807.00px;font-size:15.60px;color:#ee7a6f;transform:scaleX(1.0800);">D</div>
<div class="t" style="left:491.02px;top:807.00px;font-size:15.60px;color:#ee7a6f;transform:scaleX(1.0800);">28</div>
<div class="c" style="left:468.95px;top:828.49px;width:17.5px;height:17.5px;background:#b81f2d"></div>
<div class="t n" style="left:474.95px;top:833.00px;font-size:11.00px;color:#fff;letter-spacing:0.9px;">1</div>
<div class="t" style="left:475.23px;top:849.00px;font-size:15.60px;color:#b81f2d;transform:scaleX(0.9300);">L</div>
<div class="t" style="left:488.32px;top:849.00px;font-size:15.60px;color:#b81f2d;transform:scaleX(1.0800);">29</div>
<div class="t" style="left:474.88px;top:870.00px;font-size:15.60px;color:#b81f2d;transform:scaleX(1.1700);">M</div>
<div class="t" style="left:494.21px;top:870.00px;font-size:15.60px;color:#b81f2d;transform:scaleX(1.0800);">30</div>
<div class="t" style="left:474.88px;top:891.00px;font-size:15.60px;color:#b81f2d;transform:scaleX(1.1700);">M</div>
<div class="t" style="left:494.21px;top:891.00px;font-size:15.60px;color:#b81f2d;transform:scaleX(1.0800);">31</div>
<div style="left:564.20px;top:108.30px;width:50px;height:10.60px;background:#f39224"></div>
<div style="left:564.20px;top:117.90px;width:95.60px;height:24.90px;background:#f39224"></div>
<div style="left:564.20px;top:142.80px;width:95.60px;height:805.00px;background:#fdd9b5;border-bottom-left-radius:45px"></div>
<div class="t h" style="left:569.65px;top:123.00px;font-size:15.80px;color:#fff;transform:scaleX(0.8517);">JANV</div>
<div class="t h" style="left:611.47px;top:123.00px;font-size:15.80px;color:#fff;transform:scaleX(1.0638);">2026</div>
<div style="left:576.00px;top:193.96px;width:79.00px;height:19.10px;background:#fdebd8"></div>
<div style="left:576.00px;top:215.09px;width:79.00px;height:19.10px;background:#fdebd8"></div>
<div style="left:576.00px;top:363.00px;width:79.00px;height:19.10px;background:#fdebd8"></div>
<div style="left:576.00px;top:384.13px;width:79.00px;height:19.10px;background:#fdebd8"></div>
<div style="left:576.00px;top:532.04px;width:79.00px;height:19.10px;background:#fdebd8"></div>
<div style="left:576.00px;top:553.17px;width:79.00px;height:19.10px;background:#fdebd8"></div>
<div style="left:576.00px;top:701.08px;width:79.00px;height:19.10px;background:#fdebd8"></div>
<div style="left:576.00px;top:722.21px;width:79.00px;height:19.10px;background:#fdebd8"></div>
<div style="left:576.00px;top:870.12px;width:79.00px;height:19.10px;background:#fdebd8"></div>
<div style="left:576.00px;top:151.70px;width:79.00px;height:19.10px;background:#f39224"></div>
<div style="left:630.30px;top:151.70px;width:4.6px;height:82.49px;background:#f39a36"></div>
<div style="left:637.55px;top:151.70px;width:4.6px;height:82.49px;background:#1a8dd0"></div>
<div style="left:644.80px;top:151.70px;width:4.6px;height:82.49px;background:#a0bd48"></div>
<div style="left:630.30px;top:151.70px;width:4.6px;height:19.10px;background:#ee7c2b"></div>
<div style="left:644.80px;top:151.70px;width:4.6px;height:19.10px;background:#9aad3a"></div>
<div class="t" style="left:576.50px;top:155.00px;font-size:15.60px;color:#fff;transform:scaleX(0.8400);">J</div>
<div class="t" style="left:592.84px;top:155.00px;font-size:15.60px;color:#fff;transform:scaleX(1.0800);">1</div>
<div class="t" style="left:576.00px;top:176.00px;font-size:15.60px;color:#9c6630;transform:scaleX(0.9800);">V</div>
<div class="t" style="left:590.32px;top:176.00px;font-size:15.60px;color:#9c6630;transform:scaleX(1.0800);">2</div>
<div class="t" style="left:576.49px;top:198.00px;font-size:15.60px;color:#f39224;transform:scaleX(0.9100);">S</div>
<div class="t" style="left:590.21px;top:198.00px;font-size:15.60px;color:#f39224;transform:scaleX(1.0800);">3</div>
<div class="t" style="left:575.77px;top:219.00px;font-size:15.60px;color:#f39224;transform:scaleX(1.0800);">D</div>
<div class="t" style="left:592.04px;top:219.00px;font-size:15.60px;color:#f39224;transform:scaleX(1.0800);">4</div>
<div class="c" style="left:568.85px;top:240.67px;width:17.5px;height:17.5px;background:#9c6630"></div>
<div class="t n" style="left:575.07px;top:245.00px;font-size:11.00px;color:#fff;letter-spacing:0.9px;">2</div>
<div class="t" style="left:575.93px;top:261.00px;font-size:15.60px;color:#9c6630;transform:scaleX(0.9300);">L</div>
<div class="t" style="left:589.08px;top:261.00px;font-size:15.60px;color:#9c6630;transform:scaleX(1.0800);">5</div>
<div class="t" style="left:575.58px;top:282.00px;font-size:15.60px;color:#9c6630;transform:scaleX(1.1700);">M</div>
<div class="t" style="left:594.68px;top:282.00px;font-size:15.60px;color:#9c6630;transform:scaleX(1.0800);">6</div>
<div class="t" style="left:575.58px;top:303.00px;font-size:15.60px;color:#9c6630;transform:scaleX(1.1700);">M</div>
<div class="t" style="left:594.58px;top:303.00px;font-size:15.60px;color:#9c6630;transform:scaleX(1.0800);">7</div>
<div class="t" style="left:576.50px;top:324.00px;font-size:15.60px;color:#9c6630;transform:scaleX(0.8400);">J</div>
<div class="t" style="left:588.47px;top:324.00px;font-size:15.60px;color:#9c6630;transform:scaleX(1.0800);">8</div>
<div class="t" style="left:576.00px;top:346.00px;font-size:15.60px;color:#9c6630;transform:scaleX(0.9800);">V</div>
<div class="t" style="left:590.32px;top:346.00px;font-size:15.60px;color:#9c6630;transform:scaleX(1.0800);">9</div>
<div class="t" style="left:576.49px;top:367.00px;font-size:15.60px;color:#f39224;transform:scaleX(0.9100);">S</div>
<div class="t" style="left:590.44px;top:367.00px;font-size:15.60px;color:#f39224;transform:scaleX(1.0800);">10</div>
<div class="t" style="left:575.77px;top:388.00px;font-size:15.60px;color:#f39224;transform:scaleX(1.0800);">D</div>
<div class="t" style="left:592.14px;top:388.00px;font-size:15.60px;color:#f39224;transform:scaleX(1.0800);">11</div>
<div class="c" style="left:568.85px;top:409.71px;width:17.5px;height:17.5px;background:#9c6630"></div>
<div class="t n" style="left:575.11px;top:414.00px;font-size:11.00px;color:#fff;letter-spacing:0.9px;">3</div>
<div class="t" style="left:575.93px;top:430.00px;font-size:15.60px;color:#9c6630;transform:scaleX(0.9300);">L</div>
<div class="t" style="left:589.44px;top:430.00px;font-size:15.60px;color:#9c6630;transform:scaleX(1.0800);">12</div>
<div class="t" style="left:575.58px;top:451.00px;font-size:15.60px;color:#9c6630;transform:scaleX(1.1700);">M</div>
<div class="t" style="left:595.14px;top:451.00px;font-size:15.60px;color:#9c6630;transform:scaleX(1.0800);">13</div>
<div class="t" style="left:575.58px;top:472.00px;font-size:15.60px;color:#9c6630;transform:scaleX(1.1700);">M</div>
<div class="t" style="left:595.14px;top:472.00px;font-size:15.60px;color:#9c6630;transform:scaleX(1.0800);">14</div>
<div class="t" style="left:576.50px;top:493.00px;font-size:15.60px;color:#9c6630;transform:scaleX(0.8400);">J</div>
<div class="t" style="left:588.84px;top:493.00px;font-size:15.60px;color:#9c6630;transform:scaleX(1.0800);">15</div>
<div class="t" style="left:576.00px;top:515.00px;font-size:15.60px;color:#9c6630;transform:scaleX(0.9800);">V</div>
<div class="t" style="left:590.74px;top:515.00px;font-size:15.60px;color:#9c6630;transform:scaleX(1.0800);">16</div>
<div class="t" style="left:576.49px;top:536.00px;font-size:15.60px;color:#f39224;transform:scaleX(0.9100);">S</div>
<div class="t" style="left:590.44px;top:536.00px;font-size:15.60px;color:#f39224;transform:scaleX(1.0800);">17</div>
<div class="t" style="left:575.77px;top:557.00px;font-size:15.60px;color:#f39224;transform:scaleX(1.0800);">D</div>
<div class="t" style="left:592.14px;top:557.00px;font-size:15.60px;color:#f39224;transform:scaleX(1.0800);">18</div>
<div class="c" style="left:568.85px;top:578.75px;width:17.5px;height:17.5px;background:#9c6630"></div>
<div class="t n" style="left:574.99px;top:583.00px;font-size:11.00px;color:#fff;letter-spacing:0.9px;">4</div>
<div class="t" style="left:575.93px;top:599.00px;font-size:15.60px;color:#9c6630;transform:scaleX(0.9300);">L</div>
<div class="t" style="left:589.44px;top:599.00px;font-size:15.60px;color:#9c6630;transform:scaleX(1.0800);">19</div>
<div class="t" style="left:575.58px;top:620.00px;font-size:15.60px;color:#9c6630;transform:scaleX(1.1700);">M</div>
<div class="t" style="left:594.72px;top:620.00px;font-size:15.60px;color:#9c6630;transform:scaleX(1.0800);">20</div>
<div class="t" style="left:575.58px;top:641.00px;font-size:15.60px;color:#9c6630;transform:scaleX(1.1700);">M</div>
<div class="t" style="left:594.72px;top:641.00px;font-size:15.60px;color:#9c6630;transform:scaleX(1.0800);">21</div>
<div class="t" style="left:576.50px;top:662.00px;font-size:15.60px;color:#9c6630;transform:scaleX(0.8400);">J</div>
<div class="t" style="left:588.42px;top:662.00px;font-size:15.60px;color:#9c6630;transform:scaleX(1.0800);">22</div>
<div class="t" style="left:576.00px;top:684.00px;font-size:15.60px;color:#9c6630;transform:scaleX(0.9800);">V</div>
<div class="t" style="left:590.32px;top:684.00px;font-size:15.60px;color:#9c6630;transform:scaleX(1.0800);">23</div>
<div class="t" style="left:576.49px;top:705.00px;font-size:15.60px;color:#f39224;transform:scaleX(0.9100);">S</div>
<div class="t" style="left:590.02px;top:705.00px;font-size:15.60px;color:#f39224;transform:scaleX(1.0800);">24</div>
<div class="t" style="left:575.77px;top:726.00px;font-size:15.60px;color:#f39224;transform:scaleX(1.0800);">D</div>
<div class="t" style="left:591.72px;top:726.00px;font-size:15.60px;color:#f39224;transform:scaleX(1.0800);">25</div>
<div class="c" style="left:568.85px;top:747.79px;width:17.5px;height:17.5px;background:#9c6630"></div>
<div class="t n" style="left:575.03px;top:752.00px;font-size:11.00px;color:#fff;letter-spacing:0.9px;">5</div>
<div class="t" style="left:575.93px;top:768.00px;font-size:15.60px;color:#9c6630;transform:scaleX(0.9300);">L</div>
<div class="t" style="left:589.02px;top:768.00px;font-size:15.60px;color:#9c6630;transform:scaleX(1.0800);">26</div>
<div class="t" style="left:575.58px;top:789.00px;font-size:15.60px;color:#9c6630;transform:scaleX(1.1700);">M</div>
<div class="t" style="left:594.72px;top:789.00px;font-size:15.60px;color:#9c6630;transform:scaleX(1.0800);">27</div>
<div class="t" style="left:575.58px;top:810.00px;font-size:15.60px;color:#9c6630;transform:scaleX(1.1700);">M</div>
<div class="t" style="left:594.72px;top:810.00px;font-size:15.60px;color:#9c6630;transform:scaleX(1.0800);">28</div>
<div class="t" style="left:576.50px;top:831.00px;font-size:15.60px;color:#9c6630;transform:scaleX(0.8400);">J</div>
<div class="t" style="left:588.42px;top:831.00px;font-size:15.60px;color:#9c6630;transform:scaleX(1.0800);">29</div>
<div class="t" style="left:576.00px;top:853.00px;font-size:15.60px;color:#9c6630;transform:scaleX(0.9800);">V</div>
<div class="t" style="left:590.51px;top:853.00px;font-size:15.60px;color:#9c6630;transform:scaleX(1.0800);">30</div>
<div class="t" style="left:576.49px;top:874.00px;font-size:15.60px;color:#f39224;transform:scaleX(0.9100);">S</div>
<div class="t" style="left:590.21px;top:874.00px;font-size:15.60px;color:#f39224;transform:scaleX(1.0800);">31</div>
</div></body></html>
